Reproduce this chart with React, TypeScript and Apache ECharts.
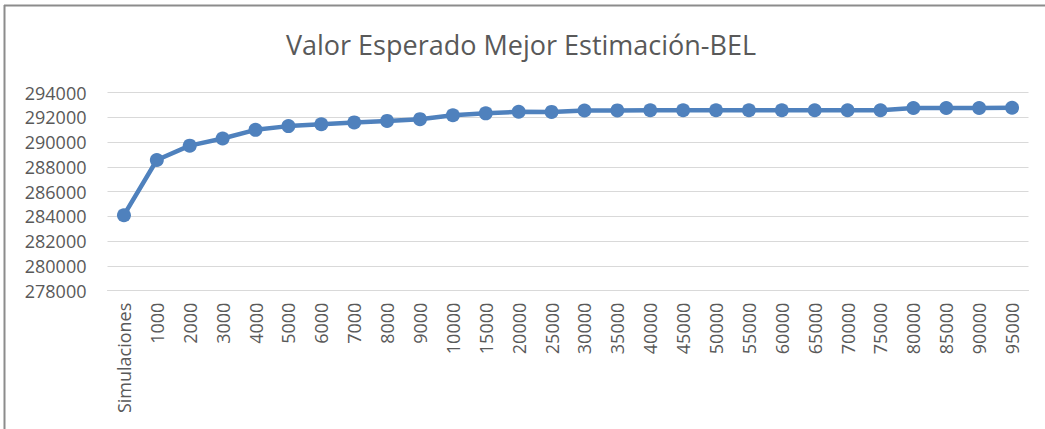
import React, { useEffect, useRef } from "react";
import * as echarts from "echarts";

const categories = [
  "Simulaciones", "1000", "2000", "3000", "4000", "5000", "6000", "7000", "8000", "9000",
  "10000", "15000", "20000", "25000", "30000", "35000", "40000", "45000", "50000", "55000",
  "60000", "65000", "70000", "75000", "80000", "85000", "90000", "95000",
];

const belValues = [
  284100, 288560, 289720, 290300, 291000, 291300, 291450, 291600, 291720, 291860,
  292180, 292330, 292460, 292450, 292560, 292570, 292580, 292580, 292580, 292580,
  292580, 292580, 292580, 292580, 292760, 292760, 292760, 292780,
];

const titleText = "Valor Esperado Mejor Estimación-BEL";
const yMin = 278000;
const yMax = 294000;
const yStep = 2000;

export default function App() {
  const ref = useRef<HTMLDivElement>(null);
  useEffect(() => {
    if (!ref.current) return;
    const chart = echarts.init(ref.current, undefined, { renderer: "svg" });
    chart.setOption({
      animation: false,
      backgroundColor: "#ffffff",
      title: {
        text: titleText,
        left: 516,
        textAlign: "center",
        top: 26,
        textStyle: {
          fontFamily: "Open Sans",
          fontSize: 27,
          fontWeight: "normal",
          color: "#595959",
        },
      },
      graphic: [
        {
          type: "line",
          shape: { x1: 4, y1: 5.5, x2: 1045, y2: 5.5 },
          style: { stroke: "#8c8c8c", lineWidth: 2 },
        },
        {
          type: "line",
          shape: { x1: 4.5, y1: 5, x2: 4.5, y2: 429 },
          style: { stroke: "#8c8c8c", lineWidth: 2 },
        },
      ],
      grid: { left: 107.5, right: 16.5, top: 92.7, bottom: 138.3 },
      xAxis: {
        type: "category",
        data: categories,
        boundaryGap: true,
        axisLine: { show: true, lineStyle: { color: "#d9d9d9", width: 1 } },
        axisTick: { show: false },
        axisLabel: {
          rotate: 90,
          interval: 0,
          margin: 12,
          fontFamily: "Open Sans",
          fontSize: 18,
          color: "#595959",
        },
      },
      yAxis: {
        type: "value",
        min: yMin,
        max: yMax,
        interval: yStep,
        axisLine: { show: false },
        axisTick: { show: false },
        axisLabel: {
          margin: 21,
          fontFamily: "Open Sans",
          fontSize: 18,
          color: "#595959",
          formatter: (v: number) => String(v),
        },
        splitLine: { lineStyle: { color: "#d9d9d9", width: 1 } },
      },
      series: [
        {
          type: "line",
          data: belValues,
          symbol: "circle",
          symbolSize: 14,
          lineStyle: { color: "#4F81BD", width: 4.5 },
          itemStyle: { color: "#4F81BD" },
        },
      ],
    });
    return () => chart.dispose();
  }, []);
  return (
    <div
      ref={ref}
      style={{ position: "fixed", left: 0, top: 0, width: 1045, height: 429 }}
    />
  );
}
